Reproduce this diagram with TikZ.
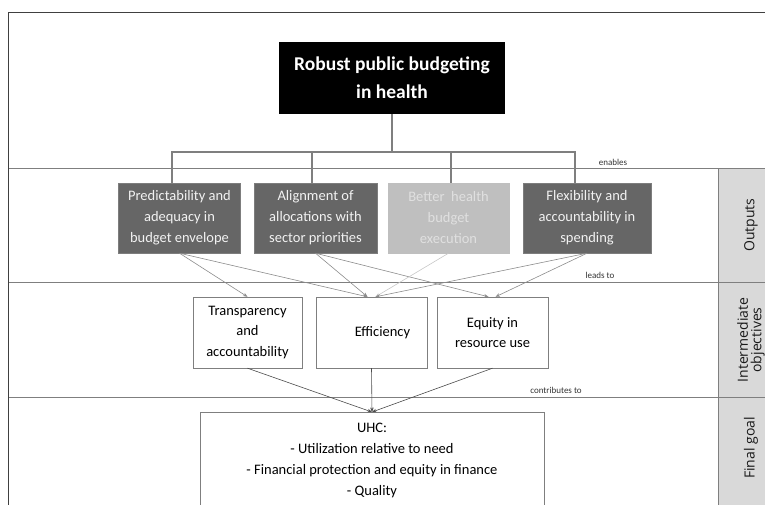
\documentclass[tikz,border=0pt]{standalone}
\usepackage{fontspec}
\setmainfont{Carlito}
\newfontfamily\bandfont{Open Sans}
\usetikzlibrary{arrows.meta}

\definecolor{outfill}{HTML}{666666}
\definecolor{lightfill}{HTML}{BFBFBF}
\definecolor{bandline}{HTML}{7F7F7F}
\definecolor{bandfill}{HTML}{D9D9D9}

\begin{document}
\begin{tikzpicture}[x=1pt, y=-1pt,
    >={Stealth[length=4.5pt,width=3.5pt]},
    topbox/.style={fill=black, text=white, font=\fontsize{19.5}{28}\selectfont\bfseries,
      minimum width=226pt, minimum height=72pt, align=center, inner sep=0pt},
    outbox/.style={fill=outfill, draw=outfill!85, text=white!95!black,
      font=\fontsize{14.5}{21}\selectfont, minimum height=70pt, align=center, inner sep=0pt},
    midbox/.style={draw=bandline, fill=white, font=\fontsize{14.5}{20.5}\selectfont,
      minimum height=71pt, align=center, inner sep=0pt},
    tag/.style={font=\fontsize{9}{10}\selectfont, text=black!80},
    band/.style={font=\bandfont\fontsize{14}{13.5}\selectfont, rotate=90, align=center, text=black!90},
    tree/.style={draw=bandline, line width=1.3pt},
    feed/.style={->, draw=black!45, line width=0.6pt},
    goal/.style={->, draw=black!70, line width=0.6pt}]

    \useasboundingbox (0,0) rectangle (765,504);
    \clip (0,0) rectangle (765,504);

    % bands on the right and frame
    \fill[bandfill] (718,168) rectangle (770,510);
    \draw[bandline, line width=0.8pt] (718,168) -- (718,510);
    \foreach \y in {168,282,397}
        \draw[bandline, line width=1pt] (8,\y) -- (770,\y);
    \draw[black!75, line width=0.9pt] (8,510) -- (8,12) -- (770,12);

    \node[band] (outputs) at (751,225) {Outputs};
    \node[band] (interm) at (751,340) {Intermediate\\objectives};
    \node[band] (final) at (751,448) {Final goal};

    % top
    \node[topbox] (robust) at (392,78) {Robust public budgeting\\in health};

    % outputs
    \node[outbox, minimum width=122pt] (predict) at (179.5,218) {Predictability and\\adequacy in\\budget envelope};
    \node[outbox, minimum width=123pt] (align) at (315.5,218) {Alignment of\\allocations with\\sector priorities};
    \node[outbox, minimum width=121pt, fill=lightfill, draw=lightfill, text=white!88!black] (execute) at (448.5,218) {Better~ health\\budget\\execution};
    \node[outbox, minimum width=128pt] (flex) at (587,218) {Flexibility and\\accountability in\\spending};

    % intermediate objectives
    \node[midbox, minimum width=109pt] (transp) at (247.5,332.5) {Transparency\\and\\accountability};
    \node[midbox, minimum width=111pt] (effic) at (371.5,332.5) {\hspace*{22pt}Efficiency};
    \node[midbox, minimum width=111pt] (equity) at (492.5,332.5) {Equity in\\resource use};

    % final goal
    \node[draw=bandline, fill=white, minimum width=344pt, minimum height=96pt, anchor=north,
      font=\fontsize{14.5}{21}\selectfont, align=center, inner sep=0pt] (uhc) at (372,412)
      {UHC:\\- Utilization relative to need\\- Financial protection and equity in finance\\- Quality};

    % tree from the top box
    \coordinate (fork) at (392,152);
    \draw[tree] (robust.south) -- (fork);
    \draw[tree] ([xshift=-7.5pt]predict.north) |- (fork);
    \draw[tree] ([xshift=-3.5pt]align.north) |- (fork);
    \draw[tree] ([xshift=2.5pt]execute.north) |- (fork);
    \draw[tree] ([xshift=-12pt]flex.north) |- (fork);

    % outputs to objectives
    \draw[feed] (predict.south) -- (transp.north);
    \draw[feed] (predict.south) -- ([xshift=-4pt]effic.north);
    \draw[feed] (align.south) -- ([xshift=-4pt]effic.north);
    \draw[feed] (align.south) -- ([xshift=-4pt]equity.north);
    \draw[feed, draw=black!22] (execute.south) -- ([xshift=4pt]effic.north);
    \draw[feed] (flex.south) -- ([xshift=4pt]effic.north);
    \draw[feed] (flex.south) -- ([xshift=3pt]equity.north);

    % objectives to the goal
    \draw[goal] (transp.south) -- (uhc.north);
    \draw[goal] (effic.south) -- (uhc.north);
    \draw[goal] (equity.south) -- (uhc.north);

    \node[tag] (enables) at (613,162) {enables};
    \node[tag] (leadsto) at (600,275) {leads to};
    \node[tag] (contrib) at (556,390) {contributes to};
\end{tikzpicture}
\end{document}
